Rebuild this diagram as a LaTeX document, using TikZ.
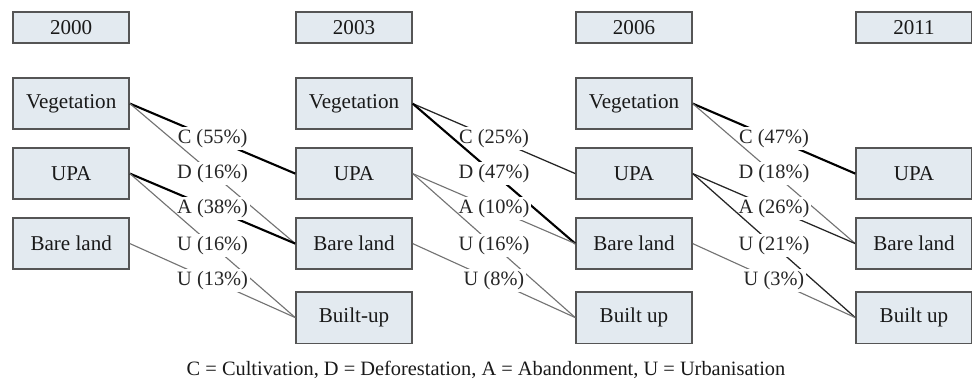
\documentclass[tikz,border=0pt]{standalone}
\usepackage{fontspec}
\setmainfont{Liberation Serif}
\usepackage{xcolor}
\definecolor{boxfill}{RGB}{227,234,240}
\definecolor{boxline}{RGB}{85,85,85}

\tikzset{
  landbox/.style={draw=boxline, fill=boxfill, line width=1pt, minimum width=2.9cm, minimum height=1.28cm, font=\fontsize{15}{17}\selectfont, text=black!90},
  yearbox/.style={landbox, minimum height=0.78cm},
  pct/.style={fill=white, inner sep=1.5pt, font=\fontsize{14.5}{17}\selectfont, text=black!85},
  major/.style={black, line width=1.5pt},
  mid/.style={black!85, line width=0.9pt},
  minor/.style={black!55, line width=0.8pt}
}

\begin{document}
\begin{tikzpicture}
\useasboundingbox (0,0) rectangle (24.3,-9.7);

% years
\node [yearbox] (y0) at (1.78cm, -0.69cm) {2000};
\node [yearbox] (y1) at (8.85cm, -0.69cm) {2003};
\node [yearbox] (y2) at (15.85cm, -0.69cm) {2006};
\node [yearbox] (y3) at (22.85cm, -0.69cm) {2011};

% 2000
\node [landbox] (v0) at (1.78cm, -2.59cm) {Vegetation};
\node [landbox] (u0) at (1.78cm, -4.34cm) {UPA};
\node [landbox] (b0) at (1.78cm, -6.09cm) {Bare land};

% 2003
\node [landbox] (v1) at (8.85cm, -2.59cm) {Vegetation};
\node [landbox] (u1) at (8.85cm, -4.34cm) {UPA};
\node [landbox] (b1) at (8.85cm, -6.09cm) {Bare land};
\node [landbox] (bu1) at (8.85cm, -7.94cm) {Built-up};

% 2006
\node [landbox] (v2) at (15.85cm, -2.59cm) {Vegetation};
\node [landbox] (u2) at (15.85cm, -4.34cm) {UPA};
\node [landbox] (b2) at (15.85cm, -6.09cm) {Bare land};
\node [landbox] (bu2) at (15.85cm, -7.94cm) {Built up};

% 2011
\node [landbox] (u3) at (22.85cm, -4.34cm) {UPA};
\node [landbox] (b3) at (22.85cm, -6.09cm) {Bare land};
\node [landbox] (bu3) at (22.85cm, -7.94cm) {Built up};

% 2000 -> 2003
\draw [major] (v0.east) -- node [pct] {C (55\%)} (u1.west);
\draw [minor] (v0.east) -- node [pct] {D (16\%)} (b1.west);
\draw [major] (u0.east) -- node [pct] {A (38\%)} (b1.west);
\draw [minor] (u0.east) -- node [pct] {U (16\%)} (bu1.west);
\draw [minor] (b0.east) -- node [pct] {U (13\%)} (bu1.west);

% 2003 -> 2006
\draw [mid] (v1.east) -- node [pct] {C (25\%)} (u2.west);
\draw [major] (v1.east) -- node [pct] {D (47\%)} (b2.west);
\draw [minor] (u1.east) -- node [pct] {A (10\%)} (b2.west);
\draw [minor] (u1.east) -- node [pct] {U (16\%)} (bu2.west);
\draw [minor] (b1.east) -- node [pct] {U (8\%)} (bu2.west);

% 2006 -> 2011
\draw [major] (v2.east) -- node [pct] {C (47\%)} (u3.west);
\draw [minor] (v2.east) -- node [pct] {D (18\%)} (b3.west);
\draw [mid] (u2.east) -- node [pct] {A (26\%)} (b3.west);
\draw [mid] (u2.east) -- node [pct] {U (21\%)} (bu3.west);
\draw [minor] (b2.east) -- node [pct] {U (3\%)} (bu3.west);

\node [font=\fontsize{14.5}{17}\selectfont, text=black!90] (key) at (12.15cm, -9.25cm) {C = Cultivation, D = Deforestation, A = Abandonment, U = Urbanisation};

\end{tikzpicture}
\end{document}
